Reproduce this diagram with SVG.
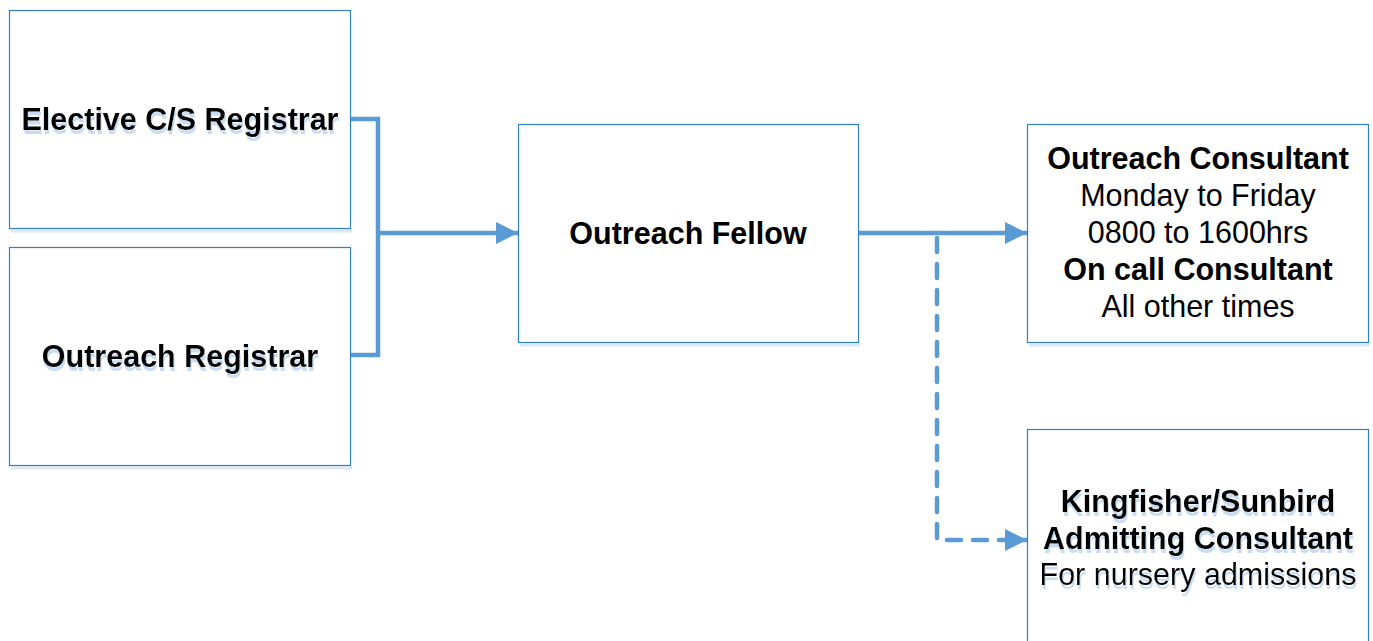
<svg xmlns="http://www.w3.org/2000/svg" width="1373" height="641" viewBox="0 0 1373 641">
<style>
.box{fill:#ffffff;stroke:#2f7fcb;stroke-width:1.2}
.sh{fill:none;stroke:#dde8f5;stroke-width:3}
.t{font-family:"Liberation Sans",Arial,sans-serif;font-size:30.5px;text-anchor:middle;fill:#000}
.b{font-weight:bold}
.s{filter:url(#tsh)}
.c{fill:none;stroke:#5b9bd5;stroke-width:4.5;stroke-linejoin:miter}
.d{stroke-dasharray:14,12;stroke-linecap:round}
</style>
<defs>
<marker id="ah" viewBox="0 0 10 10" refX="10" refY="5" markerWidth="22" markerHeight="22" markerUnits="userSpaceOnUse" orient="auto">
<path d="M0,0 L10,5 L0,10 Z" fill="#5b9bd5"/>
</marker>
<filter id="tsh" x="-5%" y="-20%" width="110%" height="150%">
<feFlood flood-color="#c9dcf1" result="f"/>
<feComposite in="f" in2="SourceAlpha" operator="in" result="c"/>
<feOffset in="c" dx="1" dy="3.5" result="o"/>
<feMerge><feMergeNode in="o"/><feMergeNode in="SourceGraphic"/></feMerge>
</filter>
</defs>
<rect width="1373" height="641" fill="#fff"/>
<g id="connectors">
<path class="c" d="M350,119 H378 V355 H350"/>
<path class="c" d="M378,233 H518" marker-end="url(#ah)"/>
<path class="c" d="M858,233 H1027" marker-end="url(#ah)"/>
<path class="c d" d="M937,238 V540 H1004"/>
<path class="c" d="M1004,540 H1027" marker-end="url(#ah)"/>
</g>
<g id="n1">
<path class="sh" d="M11,231 H352"/>
<rect class="box" x="9.5" y="10.5" width="341" height="218"/>
<text class="t b s" x="180" y="130">Elective C/S Registrar</text>
</g>
<g id="n2">
<path class="sh" d="M11,468 H352"/>
<rect class="box" x="9.5" y="247.5" width="341" height="218"/>
<text class="t b s" x="180" y="367">Outreach Registrar</text>
</g>
<g id="n3">
<path class="sh" d="M520,345 H860"/>
<rect class="box" x="518.5" y="124.5" width="340" height="218"/>
<text class="t b" x="688" y="244">Outreach Fellow</text>
</g>
<g id="n4">
<path class="sh" d="M1029,345 H1369"/>
<rect class="box" x="1027.5" y="124.5" width="341" height="218"/>
<text class="t b" x="1198" y="169">Outreach Consultant</text>
<text class="t" x="1198" y="206">Monday to Friday</text>
<text class="t" x="1198" y="243">0800 to 1600hrs</text>
<text class="t b" x="1198" y="280">On call Consultant</text>
<text class="t" x="1198" y="317">All other times</text>
</g>
<g id="n5">
<rect class="box" x="1027.5" y="429.5" width="341" height="240"/>
<text class="t b s" x="1198" y="512">Kingfisher/Sunbird</text>
<text class="t b s" x="1198" y="549">Admitting Consultant</text>
<text class="t s" x="1198" y="585">For nursery admissions</text>
</g>
</svg>
